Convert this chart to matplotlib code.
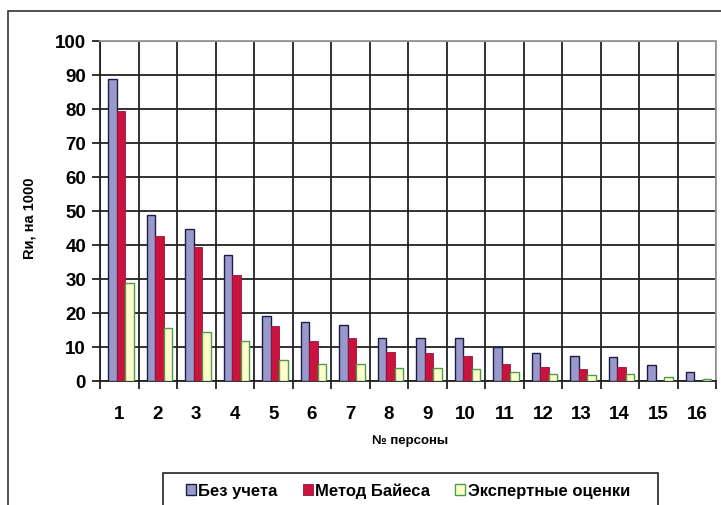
import matplotlib

matplotlib.use("Agg")
import matplotlib.pyplot as plt
import numpy as np
from matplotlib.patches import Rectangle

plt.rcParams["font.family"] = ["Liberation Sans", "DejaVu Sans"]

persons = [str(i) for i in range(1, 17)]
no_account = [88.6, 48.8, 44.5, 37.0, 19.2, 17.3, 16.4, 12.5, 12.5, 12.5, 10.1, 8.1, 7.3, 7.0, 4.6, 2.5]
bayes = [79.2, 42.5, 39.4, 31.1, 16.2, 11.8, 12.6, 8.6, 8.2, 7.4, 5.0, 4.2, 3.5, 4.2, 0.0, 0.0]
expert = [28.8, 15.6, 14.4, 11.8, 6.2, 5.0, 4.9, 3.9, 3.9, 3.4, 2.6, 2.2, 1.9, 2.2, 1.1, 0.6]
series_names = ["Без учета", "Метод Байеса", "Экспертные оценки"]

W, H = 721, 506
fig = plt.figure(figsize=(W / 100, H / 100), dpi=100)
ax = fig.add_axes([100 / W, 1 - 382 / H, 616 / W, 340.5 / H])

styles = [
    dict(facecolor="#9999cc", edgecolor="#1c1c44", linewidth=1.0),
    dict(facecolor="#c8143c", edgecolor="#a01040", linewidth=0.6),
    dict(facecolor="#ffffcc", edgecolor="#4c9a4c", linewidth=1.0),
]

x = np.arange(len(persons))
bw = 0.22
for k, vals in enumerate([no_account, bayes, expert]):
    ax.bar(x + (k - 1) * bw + 0.05, vals, bw, zorder=3, **styles[k])

ax.set_xlim(-0.5, len(persons) - 0.5)
ax.set_ylim(0, 100)
ax.set_yticks(range(0, 101, 10))
ax.set_xticks(x)
ax.set_xticklabels(persons)
ax.set_xticks(np.arange(-0.5, len(persons)), minor=True)
ax.tick_params(axis="x", which="major", length=0, pad=17)
ax.tick_params(axis="x", which="minor", length=6, width=1.3, color="#222222")
ax.tick_params(axis="y", length=6, width=1.3, color="#222222", pad=4)
for lab in ax.get_xticklabels() + ax.get_yticklabels():
    lab.set_fontsize(13.5)
    lab.set_fontweight("bold")

ax.grid(True, axis="y", color="#222222", linewidth=1.3, zorder=0)
ax.grid(True, axis="x", which="minor", color="#222222", linewidth=1.3, zorder=0)
for side in ("top", "right"):
    ax.spines[side].set_color("#999999")
    ax.spines[side].set_linewidth(1.3)
for side in ("left", "bottom"):
    ax.spines[side].set_color("#222222")
    ax.spines[side].set_linewidth(1.3)

ax.set_ylabel("Rи, на 1000", fontsize=10.5, fontweight="bold", va="center")
ax.yaxis.set_label_coords(-70 / 616, 0.48)
ax.set_xlabel("№ персоны", fontsize=9.5, fontweight="bold", va="center")
ax.xaxis.set_label_coords(0.503, -59 / 340.5)

# outer chart frame
fig.patches.append(Rectangle((8 / W, -0.2), 1.2, 1.2 - 12 / H, transform=fig.transFigure,
                             fill=False, edgecolor="#333333", linewidth=1.2))

# legend box, open at the bottom edge of the image
fig.patches.append(Rectangle((163 / W, -0.1), 495 / W, 0.1 + 1 - 474 / H, transform=fig.transFigure,
                             fill=False, edgecolor="#222222", linewidth=1.2))

handles = [Rectangle((0, 0), 1, 1, **s) for s in styles]
leg = fig.legend(handles, series_names, loc="upper left", bbox_to_anchor=(186 / W, 1 - 484 / H),
                 ncol=3, frameon=False, prop={"weight": "bold", "size": 12},
                 handlelength=0.6, handleheight=0.6, handletextpad=0.15,
                 columnspacing=1.5, borderpad=0, borderaxespad=0)

fig.savefig("out.png", dpi=100)
